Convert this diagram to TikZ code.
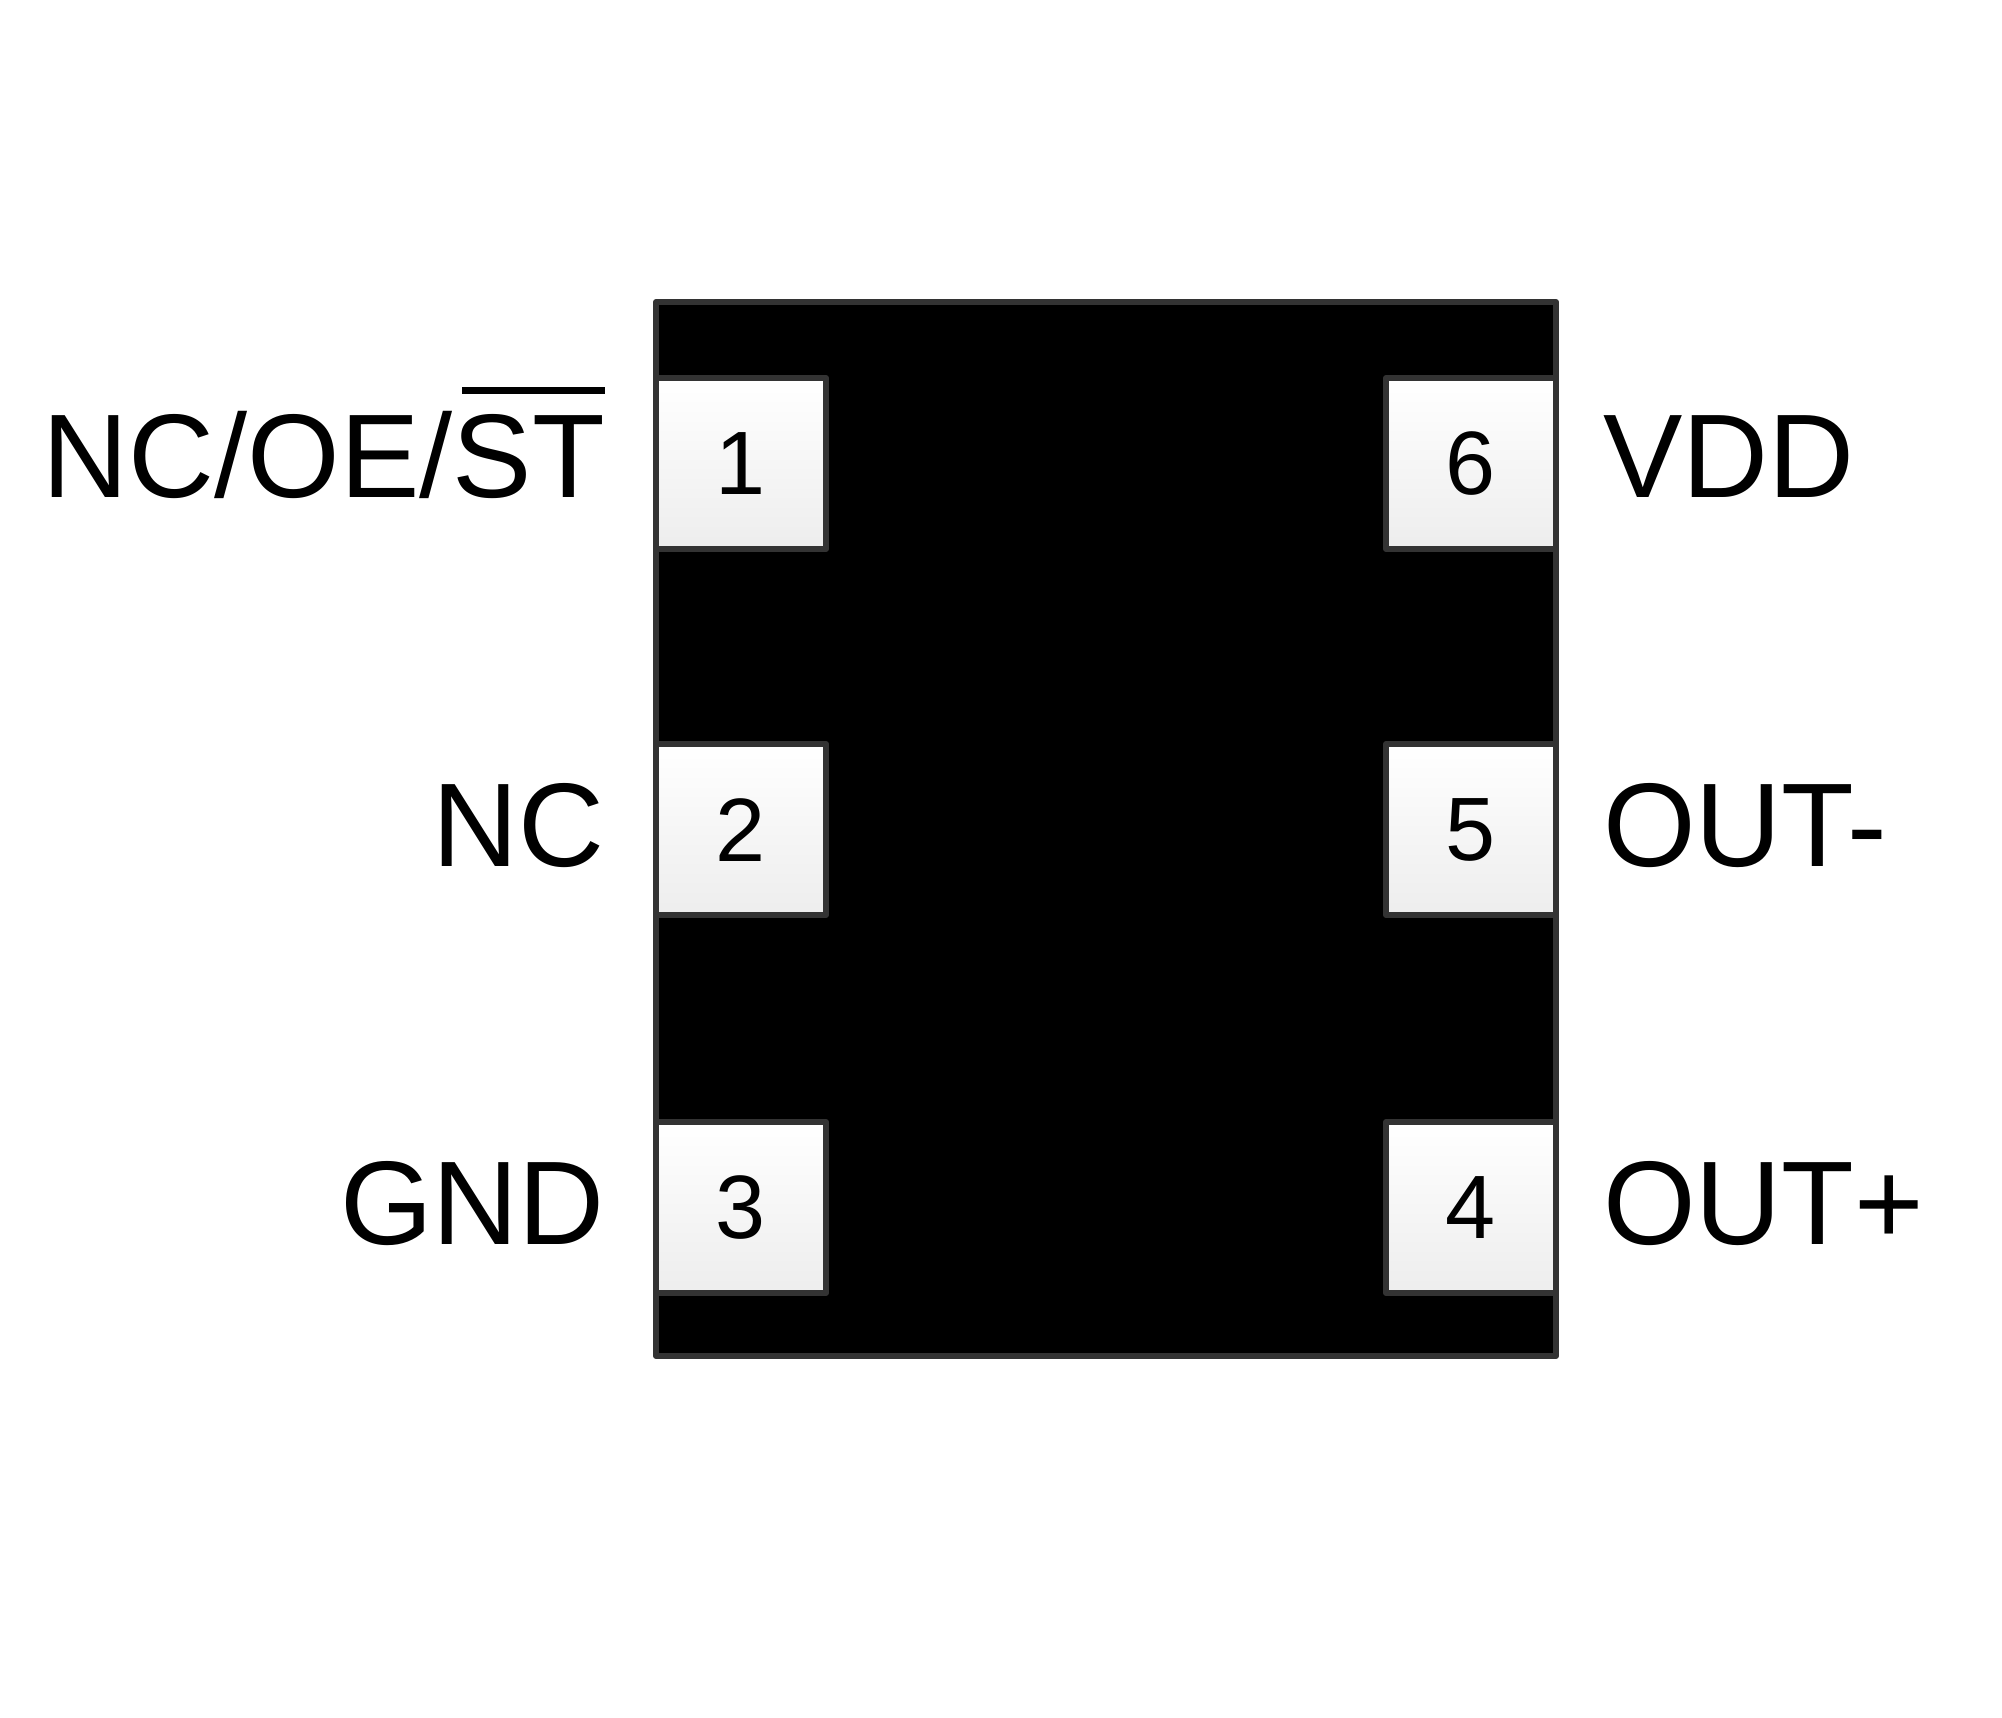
\documentclass[tikz,border=0pt]{standalone}
\usepackage{fontspec}
\setmainfont{Liberation Sans}
\begin{document}
\begin{tikzpicture}[x=1pt,y=-1pt,
  edge/.style={draw=black!80,line width=6pt,line join=round},
  pad/.style={edge,top color=white,bottom color=black!7},
  num/.style={font=\fontsize{90}{90}\selectfont},
  lab/.style={font=\fontsize{119}{119}\selectfont,inner sep=0pt}]
\fill[white] (0,0) rectangle (2002,1718);
\useasboundingbox (0,0) rectangle (2002,1718);
\path[edge,fill=black] (656,302) rectangle (1556,1356);
\foreach \n/\x/\y in {1/656/378,2/656/744,3/656/1122,6/1386/378,5/1386/744,4/1386/1122}{
  \path[pad] (\x,\y) rectangle ++(170,171);
  \node[num] (p\n) at (\x+85,\y+86) {\n};
}
\node[lab,anchor=base east] (l1) at (605,497) {NC/OE/ST};
\draw[line width=7pt] ([xshift=-143pt,yshift=107pt]l1.base east) -- ([yshift=107pt]l1.base east);
\node[lab,anchor=base east] (l2) at (605,866) {NC};
\node[lab,anchor=base east] (l3) at (605,1244) {GND};
\node[lab,anchor=base west] (l6) at (1603,497) {VDD};
\node[lab,anchor=base west] (l5) at (1603,866) {OUT-};
\node[lab,anchor=base west] (l4) at (1603,1244) {OUT+};
\end{tikzpicture}
\end{document}
